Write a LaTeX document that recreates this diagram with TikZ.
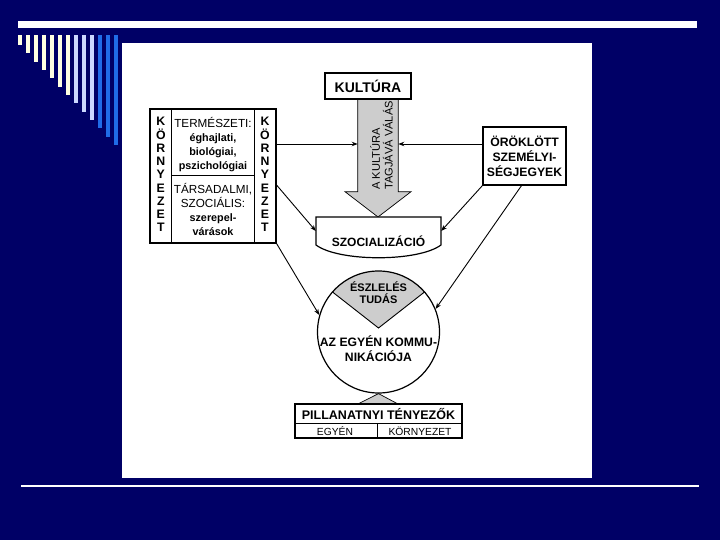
\documentclass[tikz,border=0pt]{standalone}
\usepackage{fontspec}
\setmainfont{Liberation Sans}
\usetikzlibrary{arrows.meta,calc}
\definecolor{navy}{RGB}{0,0,102}
\definecolor{cream}{RGB}{255,255,225}
\definecolor{paleblue}{RGB}{204,216,255}
\definecolor{midblue}{RGB}{32,108,232}
\definecolor{dots}{RGB}{205,205,205}
\newcommand\setfs[2]{\fontsize{#1}{#2}\selectfont}
\begin{document}
\begin{tikzpicture}[x=1pt,y=-1pt,
  box/.style={draw=black,line width=1.2pt,fill=white,inner sep=0pt},
  thin/.style={draw=black,line width=1pt},
  conn/.style={draw=black,line width=0.9pt,-{Stealth[length=6pt,width=4.5pt]}},
  txt/.style={inner sep=0pt,align=center},
  bold12/.style={txt,font=\setfs{12}{14}\bfseries},
]
\fill[navy] (0,0) rectangle (720,540);
\useasboundingbox (0,0) rectangle (720,540);
% decorations
\fill[white] (18,21) rectangle (697,28);
\foreach \i in {0,...,12}{
  \pgfmathsetmacro{\xx}{18+8*\i}
  \pgfmathsetmacro{\yy}{45+8.33*\i}
  \ifnum\i<7 \def\cc{cream}\else\ifnum\i<10 \def\cc{paleblue}\else\def\cc{midblue}\fi\fi
  \fill[\cc] (\xx,35.5) rectangle ({\xx+4},\yy);
}
\fill[white] (122,43) rectangle (592,478);
\fill[white] (21,485) rectangle (699,487);

% big shaded arrow
\filldraw[fill=dots,draw=black,line width=0.7pt]
  (357.7,99) -- (357.7,191.7) -- (345,191.7) -- (378,217) -- (411,191.7) -- (398.3,191.7) -- (398.3,99);
\node[txt,rotate=90,anchor=west,align=left,font=\setfs{11.1}{12.8}] (arrtext) at (381.5,190) {A KULTÚRA\\TAGJÁVÁ VÁLÁS};

% culture box
\node[box,line width=1.8pt,minimum width=86pt,minimum height=25.5pt,font=\setfs{14}{16}\bfseries] (kult) at (368,86) {KULTÚRA};

% left box
\node[box,minimum width=126pt,minimum height=134pt] (lbox) at (213,176) {};
\draw[thin] (171.7,109) -- (171.7,243) (254,109) -- (254,243) (171.7,176) -- (254,176);
\node[txt,font=\setfs{12.3}{13.25}\bfseries] (kl) at (160.8,174.7) {K\\Ö\\R\\N\\Y\\E\\Z\\E\\T};
\node[txt,font=\setfs{12.3}{13.25}\bfseries] (kr) at (265,174.7) {K\\Ö\\R\\N\\Y\\E\\Z\\E\\T};
\node[txt,font=\setfs{11.7}{13.8}] (term) at (213,144.5)
  {TERMÉSZETI:\\{\setfs{10.8}{13.8}\bfseries éghajlati,}\\{\setfs{10.8}{13.8}\bfseries biológiai,}\\{\setfs{10.8}{13.8}\bfseries pszichológiai}};
\node[txt,font=\setfs{11.7}{13.8}] (tars) at (213,209.5)
  {TÁRSADALMI,\\SZOCIÁLIS:\\{\setfs{10.8}{13.8}\bfseries szerepel-}\\{\setfs{10.8}{13.8}\bfseries várások}};

% right box
\node[box,minimum width=83pt,minimum height=58pt,align=center,font=\setfs{12.2}{15}\bfseries] (rbox) at (524.5,156) {ÖRÖKLÖTT\\SZEMÉLYI-\\SÉGJEGYEK};

% socialization
\node[inner sep=0pt,minimum width=125pt,minimum height=28pt] (soc) at (378.5,231) {};
\filldraw[fill=white,draw=black,line width=1.2pt]
  (316,217) -- (441,217) -- (441,245) .. controls (418,262) and (339,262) .. (316,245) -- cycle;
\node[bold12] (soclabel) at (378.5,241) {SZOCIALIZÁCIÓ};

% circle with shaded sector
\begin{scope}
  \clip (378.5,332) circle[radius=61pt];
  \filldraw[fill=dots,draw=black,line width=0.9pt] (378.5,328) -- (286.5,256) -- (378.5,180) -- (470.5,256) -- cycle;
\end{scope}
\node[circle,draw=black,line width=1.2pt,minimum size=122pt,inner sep=0pt] (circ) at (378.5,332) {};
\node[txt,font=\setfs{11}{12.2}\bfseries] (eszl) at (378.5,292.5) {ÉSZLELÉS\\TUDÁS};
\node[txt,font=\setfs{12.2}{15}\bfseries] (komm) at (378.5,349) {AZ EGYÉN KOMMU-\\NIKÁCIÓJA};

% bottom
\filldraw[fill=dots,draw=black,line width=0.7pt] (circ.south) -- (358,404) -- (398,404) -- cycle;
\node[box,minimum width=167pt,minimum height=34pt] (pill) at (378.5,421) {};
\draw[thin] (295,423.3) -- (462,423.3) (377,423.3) -- (377,438);
\node[txt,font=\setfs{12.5}{14}\bfseries] (ptext) at (378.5,414.5) {PILLANATNYI TÉNYEZŐK};
\node[txt,font=\setfs{10.3}{12}] (pe) at (335,431) {EGYÉN};
\node[txt,font=\setfs{10.3}{12}] (pk) at (420,431) {KÖRNYEZET};

% connectors
\coordinate (shL) at (357.7,144);
\coordinate (shR) at (398.3,144);
\draw[conn] (lbox.east |- shL) -- (shL);
\draw[conn] (rbox.west |- shR) -- (shR);
\draw[conn] ($(lbox.south east)!0.433!(lbox.north east)$) -- (soc.west);
\draw[conn] (lbox.south east) -- (circ.164);
\draw[conn] (rbox.south west) -- (soc.east);
\draw[conn] ($(rbox.south)+(-3,0)$) -- (circ.22);
\end{tikzpicture}
\end{document}
